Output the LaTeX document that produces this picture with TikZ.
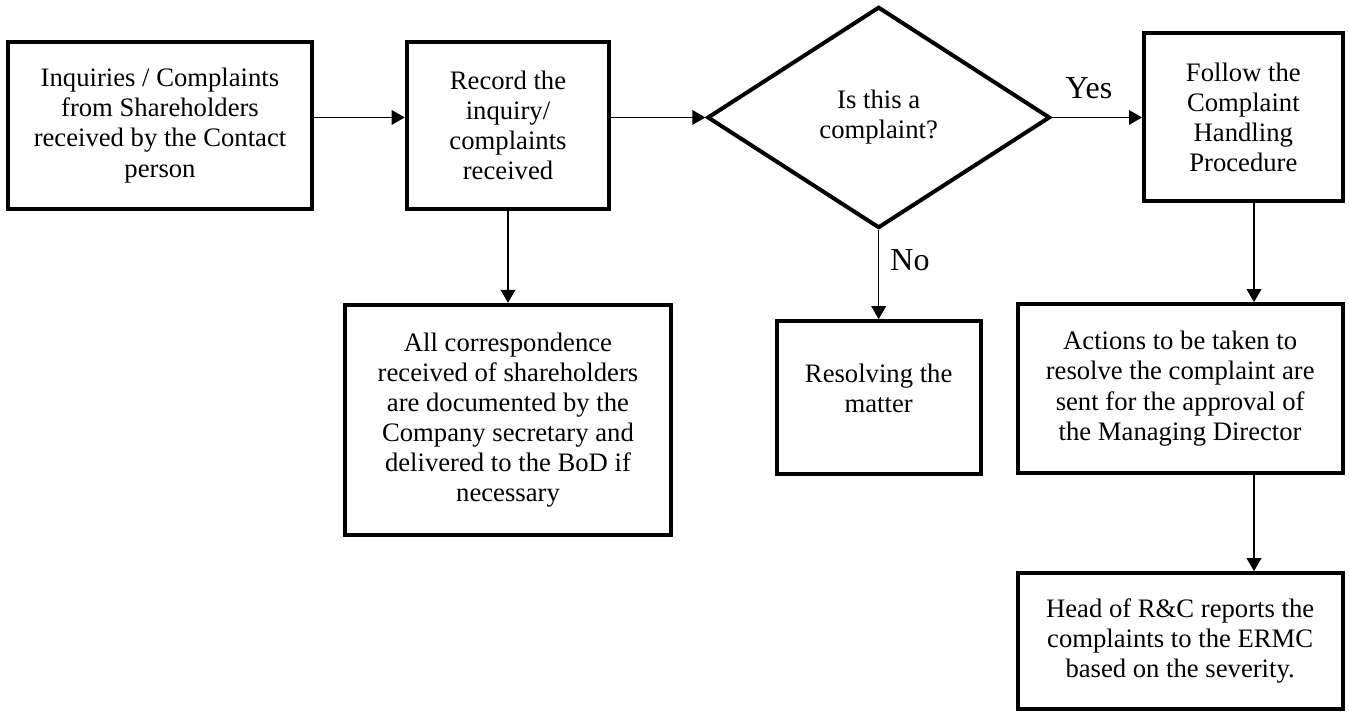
\documentclass[tikz,border=0pt]{standalone}
\usepackage{fontspec}
\setmainfont{Liberation Serif}
\usetikzlibrary{arrows.meta, positioning, shapes.geometric}

\begin{document}
\begin{tikzpicture}[>={Triangle[length=9.75pt, width=11pt]}, font=\fontsize{20}{22.6}\selectfont]
  \tikzstyle{box}=[draw, line width=3pt, align=center, inner sep=2pt]
  \tikzstyle{dia}=[draw, diamond, line width=3pt, align=center, inner sep=0pt, minimum width=257pt, minimum height=166pt]
  \tikzstyle{lbl}=[font=\fontsize{24}{28}\selectfont]
  \tikzstyle{link}=[->, line width=1pt]

  \useasboundingbox (0,0) rectangle (1011.75pt,-534.75pt);

  % Top row
  \node[box, minimum width=228pt, minimum height=125pt] (inq) at (120pt,-94.1pt) {Inquiries / Complaints\\from Shareholders\\received by the Contact\\person};
  \node[box, minimum width=152pt, minimum height=125pt, right=68pt of inq] (rec) {Record the\\inquiry/\\complaints\\received};
  \node[dia, right=70.5pt of rec, yshift=6pt] (dec) {Is this a\\complaint?};
  \node[box, minimum width=149pt, minimum height=126pt, right=67.5pt of dec] (fol) {Follow the\\Complaint\\Handling\\Procedure};

  % Lower boxes
  \node[box, minimum width=244.5pt, minimum height=173pt, below=69pt of rec] (cor) {All correspondence\\received of shareholders\\are documented by the\\Company secretary and\\delivered to the BoD if\\necessary};
  \node[box, minimum width=153pt, minimum height=114.75pt, below=66.75pt of dec] (res) {Resolving the\\matter\\[-8.6pt]\mbox{}};
  \node[box, minimum width=243.75pt, minimum height=126.75pt, below=74pt of fol.south east, anchor=north east] (act) {Actions to be taken to\\resolve the complaint are\\sent for the approval of\\the Managing Director};
  \node[box, minimum width=243.75pt, minimum height=102pt, below=72pt of act] (hd) {Head of R\&C reports the\\complaints to the ERMC\\based on the severity.};

  \coordinate (rx) at ([xshift=8pt]fol.south);

  \draw[link] (inq.east |- dec) -- (rec.west |- dec);
  \draw[link] (rec.east |- dec) -- (dec.west);
  \draw[link] (dec.east) -- node[lbl, above=10pt, xshift=-6pt]{Yes} (fol.west);
  \draw[link] (dec.south) -- node[lbl, pos=0.34, right=5pt]{No} (dec.south |- res.north);
  \draw[link] (rec.south) -- (cor.north);
  \draw[link] (rx) -- (rx |- act.north);
  \draw[link] (rx |- act.south) -- (rx |- hd.north);
\end{tikzpicture}
\end{document}
